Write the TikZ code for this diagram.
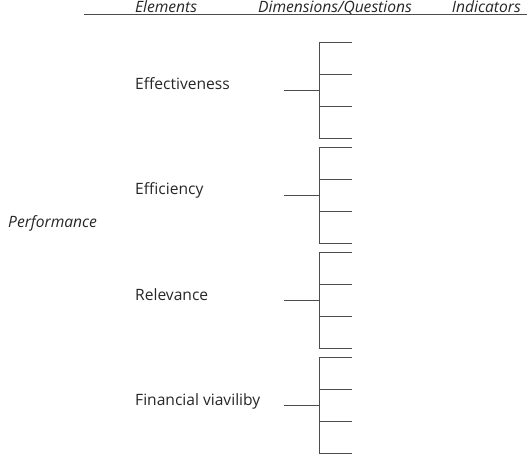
\documentclass[tikz,border=0pt]{standalone}
\usepackage{fontspec}
\setmainfont{Open Sans}
\begin{document}
\begin{tikzpicture}[x=1pt,y=-1pt,
  lbl/.style={anchor=base west,inner sep=0pt,font=\fontsize{15.6}{18}\selectfont,text=black!85},
  hdr/.style={anchor=base,inner sep=0pt,font=\fontsize{15.6}{18}\selectfont\itshape,text=black!85},
  ln/.style={draw=black!70,line width=0.9pt}]
\useasboundingbox (0,0) rectangle (527,454);
\node[hdr] (h1) at (166,12.3) {Elements};
\node[hdr] (h2) at (335,12.3) {Dimensions/Questions};
\node[hdr,anchor=base east] (h3) at (521,12.3) {Indicators};
\coordinate (hl) at (84,14.8);
\coordinate (hr) at (527,14.8);
\draw[ln] (hl) -- (hr);
\node[lbl,font=\fontsize{15.6}{18}\selectfont\itshape] (perf) at (8,228) {Performance};
\foreach \i/\t/\txt in {1/42/Effectiveness,2/147/Efficiency,3/252/Relevance,4/357/Financial viaviliby}{
  \node[lbl] (e\i) at (135,\t+48) {\txt};
  \coordinate (s\i) at (284,\t+48);
  \coordinate (m\i) at (319,\t+48);
  \coordinate (t\i) at (319,\t);
  \coordinate (b\i) at (319,\t+96);
  \coordinate (ta\i) at (352,\t);
  \coordinate (tb\i) at (352,\t+32);
  \coordinate (tc\i) at (352,\t+64);
  \coordinate (td\i) at (352,\t+96);
  \draw[ln] (s\i) -- (m\i);
  \draw[ln] (ta\i) -- (t\i) -- (b\i) -- (td\i);
  \draw[ln] (t\i |- tb\i) -- (tb\i);
  \draw[ln] (t\i |- tc\i) -- (tc\i);
}
\end{tikzpicture}
\end{document}
